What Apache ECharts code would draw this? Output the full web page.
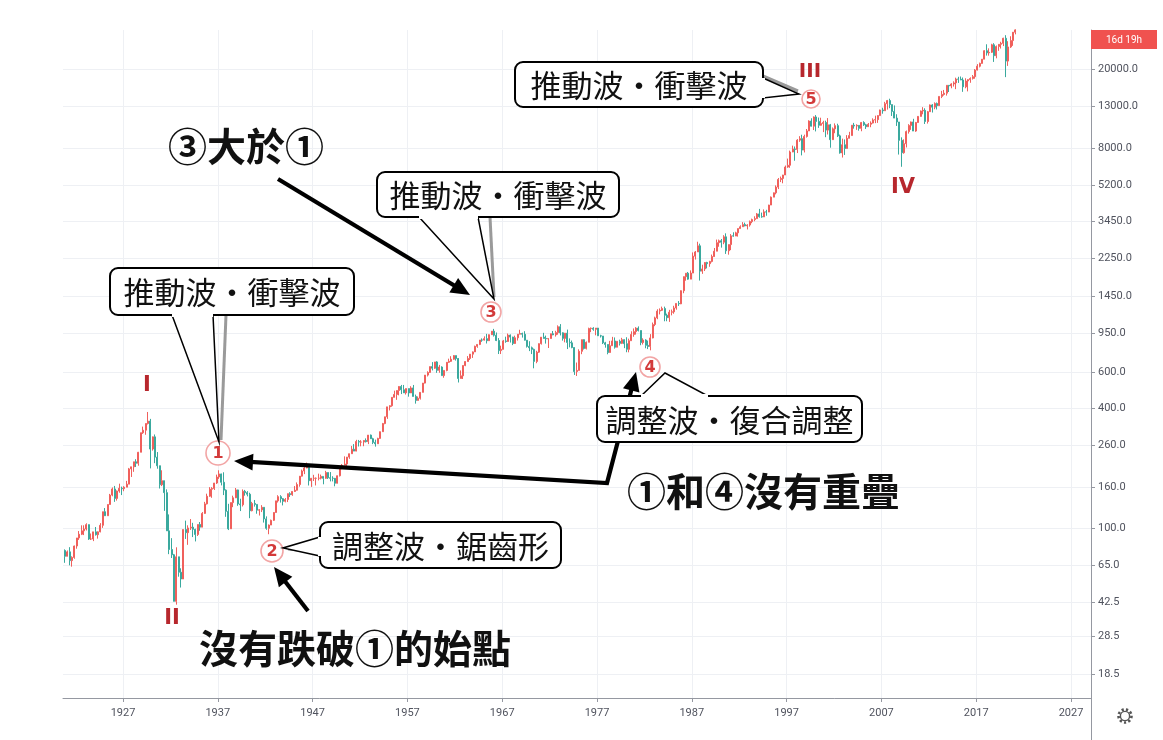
<!DOCTYPE html>
<html><head><meta charset="utf-8">
<script src="https://cdn.jsdelivr.net/npm/echarts@6/dist/echarts.min.js"></script>
<style>html,body{margin:0;padding:0;background:#fff}#c{width:1163px;height:740px}</style>
</head><body><div id="c"></div>
<script>
// ---- data: DJIA quarterly candles (read/estimated from the picture), first quarter = 1920 Q4 ----
const startYear = 1920.75;
const firstOpen = 77.0;
const qClose = [
72.0,
75.8,68.5,71.1,81.1, 89.0,92.9,96.6,98.7, 103.8,87.9,87.9,95.5, 92.4,95.5,103.0,120.5,
115.0,131.0,146.0,156.7, 140.5,153.0,158.0,157.2, 160.0,165.7,197.6,202.4, 214.5,210.8,239.4,300.0,
308.9,333.8,343.0,248.5, 286.0,226.3,204.9,164.6, 172.4,150.2,96.6,77.9, 73.3,42.8,71.6,59.9,
55.4,98.1,94.6,99.9, 100.8,98.3,92.6,104.0, 100.8,118.2,131.9,144.1, 156.3,157.6,167.8,179.9,
186.4,169.3,154.6,121.0, 98.9,133.9,141.5,155.0, 131.8,130.6,152.5,150.2, 147.5,121.9,132.6,131.1,
122.7,123.1,126.8,110.9, 99.5,103.3,109.1,119.4, 136.6,143.4,140.1,135.9, 138.8,148.4,146.7,152.3,
154.4,164.9,181.7,192.9, 199.6,205.6,172.4,177.2, 177.2,177.3,177.5,181.2, 177.2,189.5,178.3,177.3,
177.1,167.4,182.5,200.1, 206.0,209.1,226.4,235.4, 247.9,242.6,271.2,269.2, 269.5,274.3,270.6,291.9,
279.9,268.3,264.0,280.9, 303.5,333.5,360.5,404.4, 409.7,451.4,466.6,488.4, 511.8,492.8,475.3,499.5,
474.8,503.3,456.3,435.7, 446.8,478.2,532.1,583.7, 601.7,643.6,631.7,679.4, 616.6,640.6,580.1,615.9,
676.6,683.9,701.2,731.1, 706.9,561.3,578.9,652.1, 682.5,706.9,743.2,762.9, 813.3,831.5,875.4,874.1,
889.0,868.0,930.6,969.3, 924.8,870.1,774.2,785.7, 866.0,860.3,926.7,905.1, 840.7,897.8,935.8,943.8,
935.5,873.2,813.1,800.4, 785.6,683.5,760.7,838.9, 904.4,891.1,887.2,890.2, 940.7,929.0,953.3,1020.0,
951.0,891.7,947.1,850.9, 846.7,802.4,607.9,616.2, 768.2,879.0,793.9,852.4, 999.5,1002.8,990.2,1004.7,
919.1,916.3,847.1,831.2, 757.4,819.0,865.8,805.0, 862.2,842.0,878.6,838.7, 785.8,867.9,932.4,964.0,
1003.9,976.9,850.0,875.0, 822.8,811.9,896.3,1046.5, 1130.0,1222.0,1233.1,1258.6, 1164.9,1132.4,1206.7,1211.6,
1266.8,1335.5,1328.6,1546.7, 1818.6,1892.7,1767.6,1896.0, 2304.7,2418.5,2596.3,1938.8, 1988.1,2141.7,2112.9,2168.6,
2293.6,2440.1,2692.8,2753.2, 2707.2,2880.7,2452.5,2633.7, 2913.9,2906.8,3016.8,3168.8, 3235.5,3318.5,3271.7,3301.1,
3435.1,3516.1,3555.1,3754.1, 3636.0,3625.0,3843.2,3834.4, 4157.7,4556.1,4789.1,5117.1, 5587.1,5654.6,5882.2,6448.3,
6583.5,7672.8,7945.3,7908.3, 8799.8,8952.0,7842.6,9181.4, 9786.2,10970.8,10337.0,11497.1, 10921.9,10447.9,10650.9,10788.0,
9878.8,10502.4,8847.6,10021.5, 10403.9,9243.3,7591.9,8341.6, 7992.1,8985.4,9275.1,10453.9, 10357.7,10435.5,10080.3,10783.0,
10503.8,10275.0,10568.7,10717.5, 11109.3,11150.2,11679.1,12463.2, 12354.4,13408.6,13895.6,13264.8, 12262.9,11350.0,10850.7,8776.4,
7608.9,8447.0,9712.3,10428.1, 10856.6,9774.0,10788.1,11577.5, 12319.7,12414.3,10913.4,12217.6, 13212.0,12880.0,13437.0,13104.0,
14578.5,14909.6,15129.7,16576.7, 16457.7,16826.6,17042.9,17823.1, 17776.1,17619.5,16284.7,17425.0, 17685.1,17930.0,18308.2,19762.6,
20663.2,21349.6,22405.1,24719.2, 24103.1,24271.4,26458.3,23327.5, 25928.7,26600.0,26916.8,28538.4, 21917.2,25812.9,27781.7,30606.5,
31430.0
];
const qHigh = [
78.0,
77.0,80.0,72.0,81.5, 89.0,96.4,103.0,103.0, 105.4,104.0,93.7,95.5, 101.0,96.0,105.6,120.5,
125.7,131.0,148.0,159.4, 162.3,154.0,166.6,161.0, 161.8,172.0,199.8,202.4, 214.5,220.9,240.4,300.0,
322.0,333.8,381.2,352.0, 287.0,294.0,240.0,205.0, 194.4,172.0,156.0,116.8, 88.8,74.0,79.9,71.6,
62.7,98.1,108.7,103.0, 110.7,106.0,99.0,104.0, 107.0,120.0,135.0,148.4, 160.0,160.0,168.0,184.9,
194.4,187.0,190.0,156.0, 132.0,134.0,145.0,158.4, 155.5,140.0,155.9,155.0, 152.8,150.0,135.0,138.0,
131.0,124.0,130.0,126.8, 114.2,104.0,110.0,119.7, 136.6,145.8,145.8,141.0, 141.0,148.6,150.9,152.5,
162.0,169.0,182.0,196.0, 203.1,212.5,205.0,178.0, 184.5,179.0,187.0,185.0, 181.0,193.2,189.0,190.5,
181.5,178.0,183.0,200.5, 209.0,228.4,226.8,235.5, 257.6,263.0,276.4,276.0, 275.4,275.0,281.0,292.0,
293.8,283.0,277.0,283.0, 304.0,336.0,361.0,404.4, 412.0,452.0,487.5,488.4, 513.0,521.0,520.9,500.0,
499.0,513.2,520.8,466.0, 456.0,478.2,533.0,583.7, 609.9,643.8,678.1,679.4, 685.5,656.4,646.0,616.0,
679.0,705.5,726.0,734.9, 726.0,711.0,616.0,652.1, 685.0,726.9,745.0,767.0, 820.0,831.5,875.4,891.7,
912.9,939.6,933.0,969.3, 995.2,954.7,895.0,820.0, 876.0,909.6,943.0,933.0, 908.9,919.9,936.0,985.2,
952.7,968.9,873.0,863.0, 811.3,792.5,773.0,842.0, 904.4,950.8,920.9,893.0, 942.3,971.3,973.5,1036.3,
1051.7,957.0,947.1,987.0, 891.7,870.0,805.0,674.8, 786.0,879.0,881.8,860.0, 1009.2,1011.0,1014.8,1004.7,
999.8,929.7,912.0,856.7, 817.7,866.6,907.7,901.4, 862.2,878.7,897.6,882.0, 903.8,888.9,967.7,1000.2,
1015.2,1024.1,967.7,892.7, 882.5,869.2,936.6,1070.6, 1145.9,1248.3,1260.8,1287.2, 1286.6,1186.6,1239.7,1244.2,
1299.4,1335.5,1372.2,1553.0, 1821.7,1892.7,1919.7,1955.6, 2405.5,2446.9,2722.4,2663.0, 2087.6,2152.9,2158.6,2183.5,
2347.1,2531.9,2791.4,2791.4, 2810.2,2935.9,2999.8,2637.1, 2973.6,3035.3,3055.2,3168.8, 3290.3,3413.2,3393.8,3333.3,
3478.3,3554.8,3652.1,3794.3, 3978.4,3811.5,3953.9,3936.0, 4172.6,4589.6,4801.8,5216.5, 5683.6,5778.0,5894.7,6560.9,
7112.5,7796.5,8259.3,8178.3, 8899.9,9211.8,9367.8,9374.3, 10006.8,11066.4,11326.0,11568.8, 11750.3,11425.6,11401.2,11006.7,
11019.0,11350.1,10610.0,10184.2, 10673.1,10635.3,9379.5,8951.5, 8869.4,9323.0,9686.1,10453.9, 10737.7,10570.8,10342.8,10854.5,
10940.6,10623.1,10719.4,10931.6, 11317.4,11670.2,11727.3,12510.6, 12795.9,13692.0,14000.4,14198.1, 13279.5,13136.7,11867.1,10850.7,
9088.1,8877.9,9829.9,10580.3, 10907.4,11258.0,10860.3,11625.0, 12391.3,12876.0,12712.5,12328.5, 13279.3,13338.7,13610.2,13588.7,
14585.1,15542.4,15709.6,16576.7, 16588.3,16978.0,17350.6,18103.5, 18288.6,18351.4,18137.1,17977.9, 17792.8,18167.6,18668.4,19987.6,
21169.1,21535.0,22419.5,24876.1, 26616.7,25399.9,26769.2,26951.8, 26241.4,26696.0,27398.7,28701.7, 29568.6,27580.2,29199.4,30637.5,
31643.0
];
const qLow = [
66.8,
72.0,64.9,63.9,70.0, 78.6,87.0,92.0,92.0, 97.0,87.0,86.9,85.8, 91.5,88.3,95.0,100.0,
115.0,115.0,131.0,144.0, 135.0,137.0,150.0,146.0, 152.7,160.0,166.0,180.0, 191.0,202.0,205.0,240.0,
296.0,293.0,330.0,198.7, 244.0,211.0,198.0,157.5, 162.0,121.7,96.6,73.8, 70.6,42.8,41.2,56.9,
50.2,55.7,88.0,82.2, 97.6,89.9,85.5,91.0, 96.7,100.8,117.6,131.0, 143.0,141.5,154.9,166.0,
176.0,163.3,146.0,113.6, 97.5,98.9,127.0,141.0, 129.0,121.4,128.0,145.0, 143.9,111.8,121.0,127.8,
117.7,115.3,120.0,106.3, 97.8,92.9,104.0,108.3, 119.3,134.0,133.9,129.6, 134.2,134.7,142.9,144.8,
151.4,154.0,160.9,181.0, 186.0,199.0,163.1,160.5, 171.8,163.2,173.0,175.0, 165.4,176.0,175.9,171.0,
171.0,161.6,167.0,181.0, 196.8,206.0,197.5,222.0, 238.0,242.6,242.0,255.9, 256.4,256.7,268.0,263.0,
279.0,262.9,255.5,264.0, 279.9,303.0,331.0,352.0, 388.0,405.0,451.0,438.6, 462.0,468.8,475.0,466.1,
454.8,475.0,456.0,419.8, 436.9,440.0,478.0,530.0, 574.5,599.0,616.0,627.0, 599.0,599.6,580.0,566.0,
610.0,672.0,679.0,697.0, 689.9,535.8,571.0,558.0, 646.8,682.0,695.0,711.5, 766.0,800.0,825.0,857.0,
869.5,840.6,867.0,929.0, 911.0,864.0,744.3,744.3, 786.0,847.8,858.0,850.0, 825.1,837.0,869.7,937.0,
899.8,870.0,802.0,769.9, 744.0,631.2,669.4,754.0, 830.6,891.0,839.6,798.0, 889.2,925.0,910.5,930.5,
922.7,869.1,851.9,788.3, 803.9,795.4,584.6,577.6, 632.0,742.9,784.2,784.2, 858.7,958.1,973.9,924.0,
919.0,900.7,835.0,800.9, 742.1,795.1,857.2,792.5, 807.0,821.1,834.9,796.7, 760.0,759.1,869.5,908.5,
931.6,965.7,824.0,831.0, 795.5,788.0,776.9,892.1, 1027.0,1113.0,1176.0,1223.0, 1086.6,1086.9,1079.0,1163.2,
1185.0,1242.0,1297.0,1324.0, 1502.0,1735.5,1755.2,1774.2, 1927.3,2216.2,2418.0,1738.7, 1879.1,1941.0,2000.6,2038.6,
2144.6,2286.4,2440.1,2569.3, 2543.2,2645.1,2365.1,2344.3, 2470.3,2886.1,2932.5,2888.0, 3181.9,3235.0,3254.1,3136.6,
3242.0,3370.8,3449.9,3577.9, 3593.4,3593.0,3636.9,3674.6, 3832.1,4168.4,4584.6,4703.8, 5000.0,5421.0,5346.6,5880.0,
6391.7,6391.7,7660.0,6936.5, 7580.4,8627.9,7379.3,7632.5, 9063.0,9774.0,10303.4,9888.2, 9731.8,10136.6,10404.8,9654.6,
9106.5,9389.5,8062.3,8836.8, 9529.5,9120.1,7528.4,7197.5, 7416.6,7992.1,8985.4,9275.1, 10048.2,9906.9,9814.7,9750.0,
10368.6,10012.4,10270.7,10215.2, 10667.4,10706.1,10739.4,11670.4, 11939.6,12354.4,12517.9,12724.1, 11634.8,11340.0,10365.5,7449.4,
6470.0,7522.0,8087.2,9487.7, 9908.4,9774.0,9686.5,10751.3, 11555.0,11862.5,10604.0,10655.3, 12217.6,12101.5,12573.3,12542.4,
13104.0,14296.2,14719.4,14719.4, 15340.7,16015.3,16334.4,15855.1, 17037.8,17596.4,15370.3,16013.7, 15450.6,17063.1,17713.2,17883.6,
19677.9,20379.6,21279.3,22416.0, 23360.3,23344.5,24077.2,21712.5, 22638.4,24680.6,25339.6,26078.6, 18213.7,20735.0,25523.4,26143.8,
29856.0
];
// axis ticks
const yTickValues = [18.5, 28.5, 42.5, 65, 100, 160, 260, 400, 600, 950, 1450, 2250, 3450, 5200, 8000, 13000, 20000];
const yTickLabels = ['18.5','28.5','42.5','65.0','100.0','160.0','260.0','400.0','600.0','950.0','1450.0','2250.0','3450.0','5200.0','8000.0','13000.0','20000.0'];
const xTickYears = [1927, 1937, 1947, 1957, 1967, 1977, 1987, 1997, 2007, 2017, 2027];
const yRange = [14.02, 31390];
const xRange = [1920.67, 2029.11];

// ---- build ----
const lg = v => Math.log10(v);
const candles = qClose.map((c, i) => {
  const o = i === 0 ? firstOpen : qClose[i - 1];
  const h = Math.max(qHigh[i], o, c), l = Math.min(qLow[i], o, c);
  return [startYear + i * 0.25 + 0.125, lg(o), lg(c), lg(l), lg(h)];
});
const yTickLog = yTickValues.map(lg);

const FONT_CJK = '"Noto Sans CJK TC", "Noto Sans CJK JP", sans-serif';
const UP = '#f0605c', DOWN = '#3aa99e';

// ---- annotation helpers (pixel-space decorations) ----
const G = [];
function line(pts, w, color, z) {
  G.push({type: 'polyline', z: z || 10, shape: {points: pts}, style: {stroke: color || '#000', lineWidth: w, fill: null, lineJoin: 'miter'}});
}
function arrowHead(from, tip, len, hw) {
  const dx = tip[0] - from[0], dy = tip[1] - from[1], d = Math.hypot(dx, dy);
  const ux = dx / d, uy = dy / d, px = -uy, py = ux;
  const bx = tip[0] - ux * len, by = tip[1] - uy * len;
  G.push({type: 'polygon', z: 11, shape: {points: [tip, [bx + px * hw, by + py * hw], [bx - px * hw, by - py * hw]]}, style: {fill: '#000'}});
  return [tip[0] - ux * (len - 3), tip[1] - uy * (len - 3)];
}
function arrowPath(pts, headStart, headEnd) {
  const p = pts.map(q => q.slice());
  if (headEnd) p[p.length - 1] = arrowHead(p[p.length - 2], p[p.length - 1], 19, 8.5);
  if (headStart) p[0] = arrowHead(p[1], p[0], 19, 8.5);
  line(p, 4.2, '#000', 10);
}
function callout(x, y, w, h, text, tail, shadow) {
  G.push({type: 'rect', z: 20, shape: {x: x, y: y, width: w, height: h, r: 8}, style: {fill: '#fff', stroke: '#000', lineWidth: 2}});
  if (shadow) G.push({type: 'polyline', z: 19, shape: {points: shadow}, style: {stroke: '#9a9a9a', lineWidth: 3, fill: null}});
  G.push({type: 'polygon', z: 21, shape: {points: [tail[0], tail[1], tail[2]]}, style: {fill: '#fff', stroke: '#000', lineWidth: 1.5}});
  G.push({type: 'line', z: 22, shape: {x1: tail[0][0], y1: tail[0][1], x2: tail[2][0], y2: tail[2][1]}, style: {stroke: '#fff', lineWidth: 4}});
  G.push({type: 'text', z: 23, style: {x: x + w / 2, y: y + h / 2 + 1, text: text, fill: '#111', font: '31px ' + FONT_CJK, align: 'center', verticalAlign: 'middle'}});
}
function wave(cx, cy, r, digit) {
  G.push({type: 'circle', z: 15, shape: {cx: cx, cy: cy, r: r}, style: {fill: 'rgba(255,255,255,0.9)', stroke: '#f2a5a5', lineWidth: 1.6}});
  G.push({type: 'text', z: 16, style: {x: cx, y: cy + 1, text: digit, fill: '#d33a3a', font: 'bold 16px "DejaVu Sans", sans-serif', align: 'center', verticalAlign: 'middle'}});
}
function roman(cx, cy, t, size) {
  G.push({type: 'text', z: 15, style: {x: cx, y: cy, text: t, fill: '#b7272d', font: 'bold ' + size + 'px "DejaVu Sans", sans-serif', align: 'center', verticalAlign: 'middle'}});
}
function bigText(x, y, t) {
  G.push({type: 'text', z: 25, style: {x: x, y: y, text: t, fill: '#111', font: 'bold 39px ' + FONT_CJK, align: 'left', verticalAlign: 'middle'}});
}

// roman numerals & wave markers
roman(147, 386, 'I', 21); roman(172, 619, 'II', 21); roman(810, 72, 'III', 20); roman(903, 188, 'IV', 21);
wave(218, 453, 12, '1'); wave(272, 551, 11, '2'); wave(491, 312, 10, '3'); wave(650, 367, 10, '4'); wave(811, 99, 9, '5');

// callouts
callout(110, 268, 244, 47, '推動波・衝擊波', [[172, 315], [219, 442], [213, 315]], [[226, 315], [221, 440]]);
callout(377, 172, 242, 45, '推動波・衝擊波', [[419, 217], [494, 299], [478, 217]], [[490, 217], [494, 297]]);
callout(515, 62, 248, 45, '推動波・衝擊波', [[763, 78], [799, 94], [763, 98]], [[763, 76], [798, 91]]);
callout(597, 396, 265, 46, '調整波・復合調整', [[641, 396], [665, 373], [708, 396]], null);
callout(320, 522, 241, 46, '調整波・鋸齒形', [[320, 537], [283, 548], [320, 556]], [[320, 552], [288, 549]]);

// arrows
arrowPath([[278, 179], [470, 295]], false, true);
arrowPath([[234, 461], [607, 483], [636, 372]], true, true);
arrowPath([[308, 611], [274, 567]], false, true);

// bold statements
bigText(168, 146, '③大於①');
bigText(627, 491, '①和④沒有重疊');
bigText(199, 648, '沒有跌破①的始點');

// chrome: countdown badge, axis separator, settings gear
G.push({type: 'rect', z: 30, shape: {x: 1091, y: 30, width: 66, height: 19}, style: {fill: '#f0524f'}});
G.push({type: 'text', z: 31, style: {x: 1124, y: 40, text: '16d 19h', fill: '#fff', font: '10px Roboto, sans-serif', align: 'center', verticalAlign: 'middle'}});
G.push({type: 'line', z: 5, shape: {x1: 1091.5, y1: 698, x2: 1091.5, y2: 740}, style: {stroke: '#9598a1', lineWidth: 1}});
G.push({type: 'circle', z: 5, shape: {cx: 1125, cy: 716, r: 6.5}, style: {fill: null, stroke: '#555', lineWidth: 2.6, lineDash: [2.2, 2.2]}});
G.push({type: 'circle', z: 5, shape: {cx: 1125, cy: 716, r: 4.6}, style: {fill: '#fff', stroke: '#555', lineWidth: 1.4}});

const chart = echarts.init(document.getElementById('c'), null, {renderer: 'canvas'});
chart.setOption({
  animation: false,
  backgroundColor: '#fff',
  grid: {left: 63, right: 72, top: 30, bottom: 42},
  xAxis: {
    type: 'value', min: xRange[0], max: xRange[1],
    axisLine: {show: true, lineStyle: {color: '#9598a1'}},
    axisTick: {show: true, length: 4, customValues: xTickYears, lineStyle: {color: '#9598a1'}},
    axisLabel: {customValues: xTickYears, color: '#50535e', fontSize: 11, fontFamily: 'Roboto, sans-serif', margin: 10, formatter: v => String(Math.round(v))},
    splitLine: {show: true, lineStyle: {color: '#eef0f4', width: 1}}
  },
  yAxis: {
    type: 'value', position: 'right', min: lg(yRange[0]), max: lg(yRange[1]), scale: true,
    axisLine: {show: true, lineStyle: {color: '#9598a1'}},
    axisTick: {show: true, length: 4, customValues: yTickLog, lineStyle: {color: '#9598a1'}},
    axisLabel: {customValues: yTickLog, color: '#50535e', fontSize: 11, fontFamily: 'Roboto, sans-serif', margin: 7,
      formatter: v => { let best = 0; yTickLog.forEach((t, i) => { if (Math.abs(t - v) < Math.abs(yTickLog[best] - v)) best = i; }); return yTickLabels[best]; }},
    splitLine: {show: true, lineStyle: {color: '#eef0f4', width: 1}}
  },
  series: [{
    type: 'candlestick', data: candles, encode: {x: 0, y: [1, 2, 3, 4]},
    barWidth: 1.5, clip: true,
    itemStyle: {color: UP, color0: DOWN, borderColor: UP, borderColor0: DOWN, borderWidth: 1}
  }],
  graphic: {elements: G}
});
</script>
</body></html>
